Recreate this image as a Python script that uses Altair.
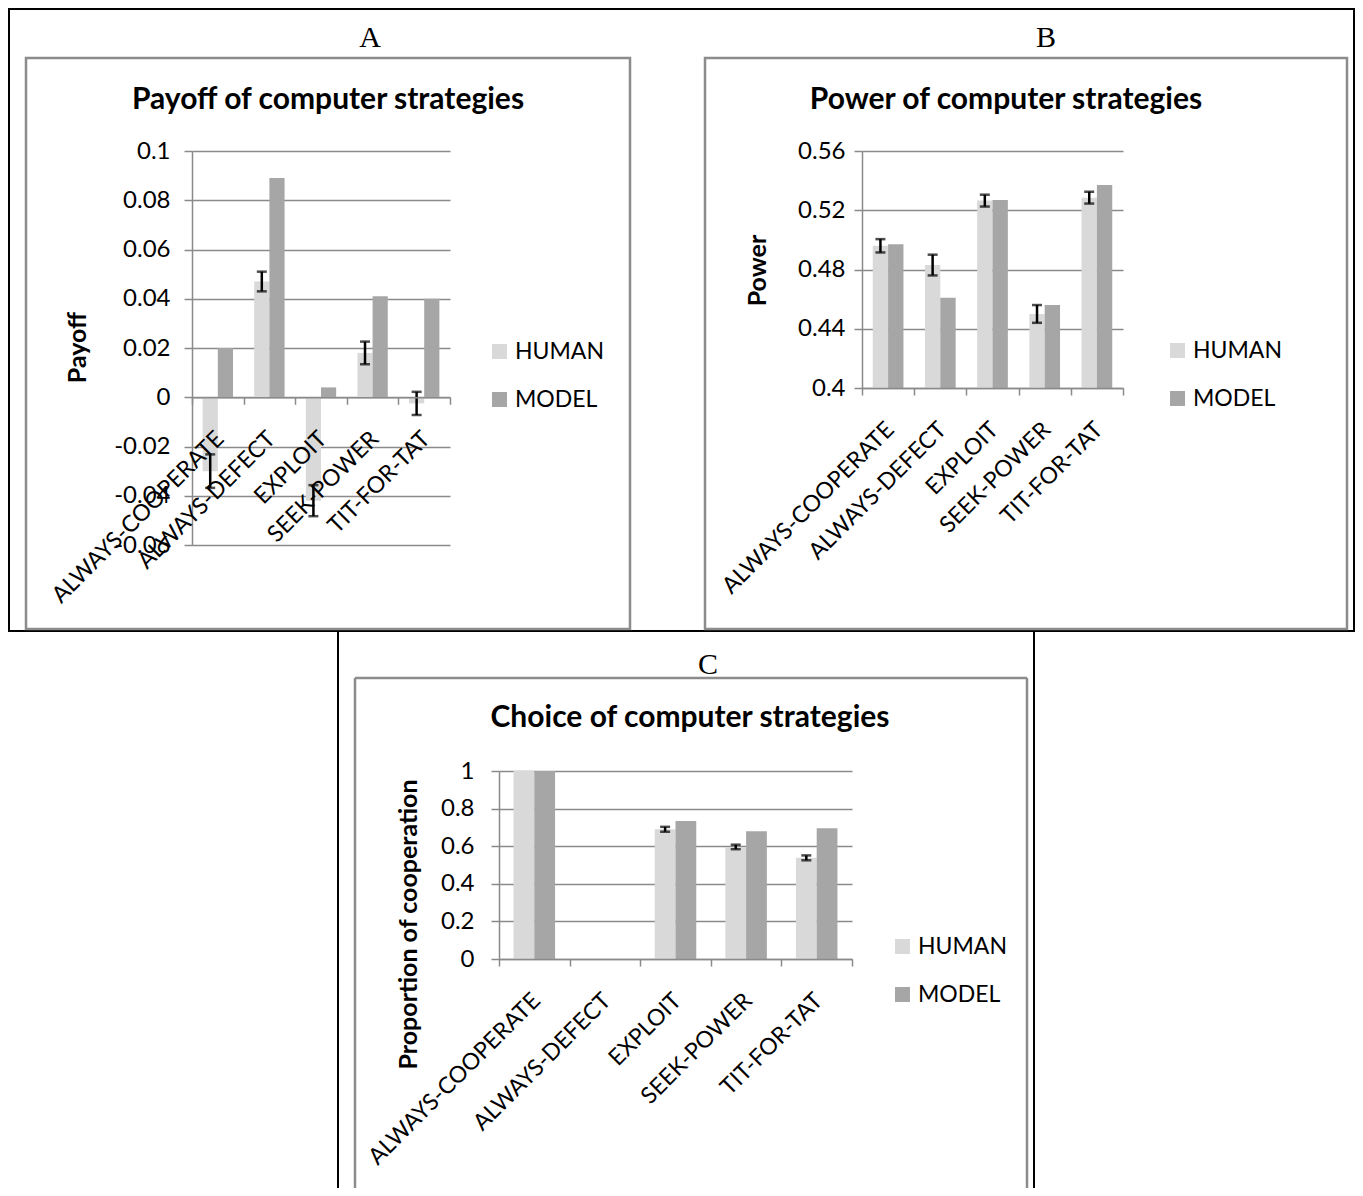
import altair as alt
import pandas as pd

# ---------------- data ----------------
strategies = ["ALWAYS-COOPERATE", "ALWAYS-DEFECT", "EXPLOIT", "SEEK-POWER", "TIT-FOR-TAT"]
series = ["HUMAN", "MODEL"]

payoff_human = [-0.030, 0.047, -0.042, 0.018, -0.0025]
payoff_human_err = [0.0068, 0.0040, 0.0063, 0.0046, 0.0047]
payoff_model = [0.020, 0.089, 0.004, 0.041, 0.040]

power_human = [0.496, 0.483, 0.5265, 0.450, 0.5285]
power_human_err = [0.0045, 0.0070, 0.0040, 0.0060, 0.0040]
power_model = [0.497, 0.461, 0.527, 0.456, 0.537]

choice_human = [1.0, 0.0, 0.690, 0.596, 0.538]
choice_human_err = [None, None, 0.013, 0.012, 0.013]
choice_model = [1.0, 0.0, 0.734, 0.679, 0.695]

payoff_ticks = [-0.06, -0.04, -0.02, 0, 0.02, 0.04, 0.06, 0.08, 0.1]
power_ticks = [0.4, 0.44, 0.48, 0.52, 0.56]
choice_ticks = [0, 0.2, 0.4, 0.6, 0.8, 1]

# ---------------- style ----------------
FONT = "Lato"
GRID = "#8a8a8a"
FRAME = "#8c8c8c"
COLORS = ["#d9d9d9", "#a6a6a6"]
LBL = 23


def panel(human, err, model, ydom, base, yticks, xr, yr, xoff, yoff, ylabpad,
          ytitle, ttl_xy, leg_xy):
    df = pd.DataFrame({
        "strategy": strategies * 2,
        "series": ["HUMAN"] * 5 + ["MODEL"] * 5,
        "value": list(human) + list(model),
    })
    edf = pd.DataFrame({"strategy": strategies, "series": ["HUMAN"] * 5,
                        "value": human, "err": err}).dropna()
    edf["lo"] = edf["value"] - edf["err"]
    edf["hi"] = edf["value"] + edf["err"]

    xscale = alt.Scale(domain=strategies, range=xr, paddingInner=0, paddingOuter=0)
    xaxis = alt.Axis(orient="bottom", offset=xoff, title=None, labelAngle=315,
                     labelAlign="right", labelBaseline="top", labelPadding=23,
                     labelOffset=-6, tickBand="extent", tickSize=7, tickWidth=1.5,
                     tickColor=GRID, domainColor=GRID, domainWidth=1.5, grid=False,
                     labelFont=FONT, labelFontSize=LBL, labelColor="black",
                     labelLimit=500, labelOverlap=False, zindex=1)
    xo_scale = alt.Scale(domain=series, paddingInner=0, paddingOuter=0.7)
    yscale = alt.Scale(domain=ydom, range=yr, nice=False, zero=False)
    yaxis = alt.Axis(orient="left", offset=yoff, values=yticks,
                     labelExpr="'' + round(datum.value*100)/100",
                     grid=True, gridColor=GRID, gridWidth=1.5,
                     domainColor=GRID, domainWidth=1.5, tickColor=GRID, tickWidth=1.5,
                     tickSize=8, labelFont=FONT, labelFontSize=24, labelColor="black",
                     labelPadding=ylabpad, labelOverlap=False, labelFlush=False,
                     title=ytitle, titleFont=FONT, titleFontSize=25, titleFontWeight="bold",
                     titleColor="black", titleAngle=270, titleAlign="center",
                     titleBaseline="middle", titleX=ttl_xy[0], titleY=ttl_xy[1])

    X = alt.X("strategy:N", sort=strategies, scale=xscale, axis=xaxis)
    XO = alt.XOffset("series:N", sort=series, scale=xo_scale)

    bars = alt.Chart(df).mark_bar().encode(
        x=X, xOffset=XO,
        y=alt.Y("value:Q", scale=yscale, axis=yaxis),
        y2=alt.datum(base),
        color=alt.Color("series:N", sort=series,
                        scale=alt.Scale(domain=series, range=COLORS),
                        legend=alt.Legend(orient="none", legendX=leg_xy[0], legendY=leg_xy[1],
                                          title=None, symbolType="square", symbolSize=225,
                                          symbolStrokeWidth=0, labelFont=FONT,
                                          labelFontSize=LBL, labelColor="black",
                                          labelOffset=4, rowPadding=24, padding=0)),
    )
    rule = alt.Chart(edf).mark_rule(color="black", strokeWidth=2.5).encode(
        x=X, xOffset=XO,
        y=alt.Y("lo:Q", scale=yscale, axis=yaxis), y2="hi:Q")
    cap_lo = alt.Chart(edf).mark_tick(color="black", size=10, thickness=2.5).encode(
        x=X, xOffset=XO, y=alt.Y("lo:Q", scale=yscale, axis=yaxis))
    cap_hi = alt.Chart(edf).mark_tick(color="black", size=10, thickness=2.5).encode(
        x=X, xOffset=XO, y=alt.Y("hi:Q", scale=yscale, axis=yaxis))
    return alt.layer(bars, rule, cap_lo, cap_hi)


# view origin = top-left of panel A plot area
pA = panel(payoff_human, payoff_human_err, payoff_model, [-0.06, 0.1], 0, payoff_ticks,
           [0, 258], [394, 0], -561.75, 0, 14, "Payoff", (-115, 196), (296, 189))
pB = panel(power_human, power_human_err, power_model, [0.4, 0.56], 0.4, power_ticks,
           [670, 931], [237, 0], -571, -670, 9, "Power", (-105, 119), (974, 188))
pC = panel(choice_human, choice_human_err, choice_model, [0, 1], 0, choice_ticks,
           [307, 660], [808, 620], 0, -307, 17, "Proportion of cooperation", (-91, 773),
           (699, 784))

one = pd.DataFrame({"k": [0]})


def box(x1, x2, y1, y2, color, w):
    return alt.Chart(one).mark_rect(fillOpacity=0, stroke=color, strokeWidth=w).encode(
        x=alt.value(x1), x2=alt.value(x2), y=alt.value(y1), y2=alt.value(y2))


def vline(x, y1, y2, color, w):
    return alt.Chart(one).mark_rule(color=color, strokeWidth=w).encode(
        x=alt.value(x), y=alt.value(y1), y2=alt.value(y2))


def hline(y, x1, x2, color, w):
    return alt.Chart(one).mark_rule(color=color, strokeWidth=w).encode(
        y=alt.value(y), x=alt.value(x1), x2=alt.value(x2))


def label(txt, x, y, font, size, weight="normal"):
    return alt.Chart(one).mark_text(text=txt, font=font, fontSize=size, fontWeight=weight,
                                    color="black", align="center", baseline="middle").encode(
        x=alt.value(x), y=alt.value(y))


decor = [
    box(-183, 1162, -142, 480, "black", 2),
    vline(146, 480, 1037, "black", 2),
    vline(842, 480, 1037, "black", 2),
    box(-166, 438, -93, 478, FRAME, 2.5),
    box(513, 1155, -93, 478, FRAME, 2.5),
    hline(527, 163, 835, FRAME, 2.5),
    vline(163, 527, 1037, FRAME, 2.5),
    vline(835, 527, 1037, FRAME, 2.5),
    label("A", 178, -113, "Liberation Serif", 30),
    label("B", 854, -113, "Liberation Serif", 30),
    label("C", 516, 514, "Liberation Serif", 30),
    label("Payoff of computer strategies", 136, -51, FONT, 30, "bold"),
    label("Power of computer strategies", 814, -51, FONT, 30, "bold"),
    label("Choice of computer strategies", 498, 567, FONT, 30, "bold"),
]

chart = alt.layer(*decor, pA, pB, pC).resolve_scale(
    x="independent", y="independent", xOffset="independent", color="independent"
).resolve_axis(x="independent", y="independent").resolve_legend(
    color="independent"
).properties(width=931, height=808, padding=0).configure_view(strokeWidth=0)

chart.save("out.html", embed_options={"renderer": "svg", "actions": False})
